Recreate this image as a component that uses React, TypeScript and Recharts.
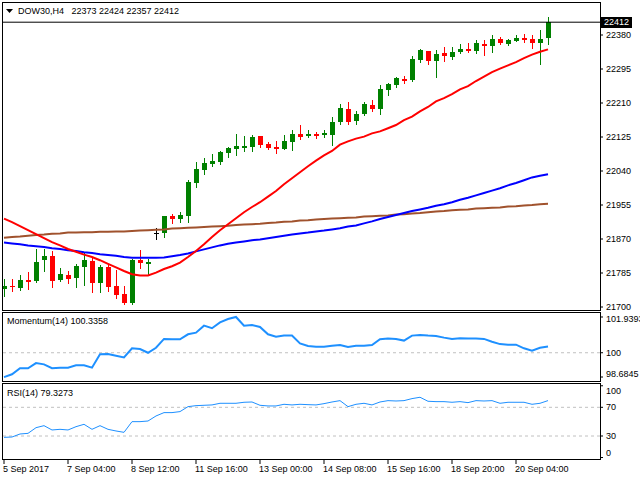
import { Bar, ComposedChart, Line, ReferenceLine, XAxis, YAxis } from 'recharts';

const FONT = '"Liberation Sans", Arial, sans-serif';
const UP = '#008000';
const DOWN = '#ff0000';

// H4 candles
const opens = [
  21744, 21752, 21748, 21767, 21764, 21817, 21827, 21767, 21780, 21773,
  21801, 21815, 21759, 21800, 21752, 21733, 21709, 21817, 21808, 21886,
  21886, 21927, 21921, 21927, 22011, 22042, 22058, 22062, 22086, 22096,
  22098, 22100, 22127, 22108, 22101, 22096, 22113, 22132, 22127, 22132,
  22130, 22131, 22163, 22194, 22165, 22183, 22204, 22194, 22242, 22255,
  22271, 22267, 22318, 22340, 22315, 22336, 22325, 22338, 22346, 22340,
  22358, 22352, 22370, 22358, 22366, 22372, 22370, 22360, 22373,
];
const highs = [
  21771, 21769, 21780, 21787, 21844, 21846, 21840, 21797, 21789, 21808,
  21836, 21823, 21804, 21808, 21792, 21752, 21819, 21843, 21819, 21898,
  21928, 21933, 21937, 22017, 22063, 22073, 22082, 22090, 22100, 22132,
  22128, 22129, 22128, 22112, 22115, 22129, 22142, 22155, 22142, 22137,
  22143, 22175, 22208, 22212, 22190, 22213, 22217, 22254, 22260, 22275,
  22278, 22327, 22346, 22341, 22342, 22350, 22350, 22358, 22360, 22367,
  22368, 22380, 22375, 22370, 22380, 22382, 22380, 22392, 22424,
];
const lows = [
  21727, 21740, 21742, 21746, 21762, 21790, 21751, 21765, 21760, 21751,
  21756, 21738, 21738, 21740, 21723, 21708, 21707, 21798, 21779, 21869,
  21875, 21911, 21913, 21913, 22001, 22033, 22052, 22057, 22076, 22080,
  22090, 22090, 22100, 22094, 22086, 22094, 22093, 22121, 22125, 22123,
  22125, 22106, 22157, 22157, 22158, 22180, 22190, 22183, 22230, 22250,
  22261, 22265, 22313, 22308, 22276, 22315, 22321, 22334, 22337, 22336,
  22330, 22338, 22357, 22356, 22365, 22363, 22348, 22308, 22357,
];
const closes = [
  21752, 21749, 21767, 21763, 21812, 21827, 21765, 21782, 21771, 21802,
  21817, 21761, 21801, 21750, 21729, 21711, 21817, 21811, 21812, 21886,
  21927, 21921, 21930, 22013, 22044, 22060, 22065, 22087, 22097, 22102,
  22103, 22125, 22105, 22098, 22096, 22115, 22132, 22125, 22132, 22128,
  22135, 22162, 22197, 22163, 22183, 22207, 22194, 22244, 22258, 22272,
  22265, 22321, 22342, 22315, 22333, 22328, 22338, 22345, 22341, 22360,
  22353, 22370, 22360, 22367, 22373, 22368, 22360, 22370, 22412,
];

// moving averages
const ma20 = [
  21921, 21912, 21902, 21892, 21882, 21872, 21862, 21854, 21845, 21838,
  21831, 21825, 21817, 21808, 21799, 21790, 21782, 21779, 21779, 21786,
  21795, 21802, 21811, 21825, 21840, 21857, 21875, 21892, 21907, 21922,
  21937, 21950, 21962, 21976, 21990, 22007, 22022, 22037, 22052, 22066,
  22079, 22090, 22106, 22114, 22121, 22126, 22134, 22139, 22147, 22155,
  22167, 22176, 22189, 22200, 22214, 22222, 22232, 22244, 22252, 22265,
  22276, 22287, 22296, 22304, 22312, 22322, 22331, 22338, 22344,
];
const ma100 = [
  21861, 21859, 21857, 21854, 21852, 21850, 21847, 21845, 21842, 21840,
  21837, 21835, 21832, 21830, 21828, 21825, 21823, 21823, 21823, 21823,
  21824, 21827, 21830, 21834, 21839, 21844, 21849, 21854, 21858, 21861,
  21864, 21867, 21869, 21872, 21875, 21878, 21881, 21884, 21886, 21889,
  21891, 21894, 21897, 21901, 21904, 21909, 21914, 21920, 21925, 21930,
  21935, 21940, 21944, 21948, 21953, 21957, 21962, 21968, 21973, 21979,
  21985, 21991, 21997, 22004, 22010, 22017, 22024, 22028, 22032,
];
const ma200 = [
  21873, 21875, 21876, 21878, 21880, 21881, 21883, 21884, 21886, 21886,
  21887, 21887, 21888, 21888, 21889, 21889, 21890, 21891, 21892, 21893,
  21894, 21896, 21897, 21898, 21899, 21900, 21901, 21902, 21903, 21905,
  21906, 21907, 21908, 21910, 21911, 21913, 21914, 21916, 21917, 21919,
  21920, 21921, 21922, 21923, 21924, 21926, 21927, 21928, 21929, 21931,
  21932, 21934, 21935, 21937, 21939, 21940, 21942, 21943, 21944, 21946,
  21947, 21948, 21949, 21951, 21952, 21954, 21955, 21957, 21958,
];

const momentum = [
  98.68, 98.83, 99.16, 99.16, 99.44, 99.37, 99.16, 99.19, 99.19, 99.32,
  99.32, 99.19, 99.92, 99.93, 99.84, 99.75, 100.24, 100.2, 100.0, 100.27,
  100.75, 100.73, 100.73, 101.0, 101.09, 101.47, 101.33, 101.65, 101.83, 101.94,
  101.47, 101.51, 101.4, 101.0, 100.87, 100.93, 100.93, 100.51, 100.37, 100.33,
  100.33, 100.38, 100.42, 100.31, 100.38, 100.38, 100.42, 100.73, 100.77, 100.75,
  100.66, 100.93, 100.96, 100.93, 100.91, 100.82, 100.75, 100.78, 100.77, 100.77,
  100.75, 100.6, 100.47, 100.44, 100.44, 100.24, 100.11, 100.27, 100.34,
];
const rsi = [
  28.1, 28.6, 32.8, 33.7, 41.6, 44.4, 38.4, 39.3, 38.4, 43.0,
  46.3, 39.3, 44.4, 39.3, 37.0, 35.1, 50.0, 50.0, 50.9, 57.9,
  62.6, 62.6, 64.0, 70.9, 72.3, 72.8, 73.3, 75.6, 75.6, 75.6,
  77.0, 77.4, 72.8, 71.9, 71.9, 74.2, 73.3, 74.2, 73.7, 73.3,
  75.1, 77.4, 79.3, 70.9, 74.2, 75.6, 73.3, 77.4, 79.3, 78.8,
  79.3, 82.1, 84.0, 78.4, 77.9, 77.9, 77.0, 77.9, 76.5, 79.3,
  78.8, 79.3, 75.6, 77.0, 77.0, 77.0, 74.2, 75.6, 79.33,
];

const timeTicks = [0, 8, 16, 24, 32, 40, 48, 56, 64];
const timeLabels = [
  '5 Sep 2017', '7 Sep 04:00', '8 Sep 12:00', '11 Sep 16:00', '13 Sep 00:00',
  '14 Sep 08:00', '15 Sep 16:00', '18 Sep 20:00', '20 Sep 04:00',
];
const priceTicks = [22380, 22295, 22210, 22125, 22040, 21955, 21870, 21785, 21700];
const momentumTicks = [101.9393, 100, 98.6845];
const rsiTicks = [100, 70, 30, 0];
const lastPrice = 22412;

const rows = opens.map((open, i) => ({
  i,
  open,
  high: highs[i],
  low: lows[i],
  close: closes[i],
  range: [lows[i], highs[i]],
  ma20: ma20[i],
  ma100: ma100[i],
  ma200: ma200[i],
  mom: momentum[i],
  rsi: rsi[i],
}));

const X_DOMAIN: [number, number] = [-0.25, 74.5];

function Candle(props: any) {
  const { x, y, width, height, index } = props;
  const d = props.payload && props.payload.open !== undefined ? props.payload : rows[index];
  if (!d) return null;
  const { open, close, high, low } = d;
  const top = Math.min(y, y + height);
  const h = Math.abs(height);
  const k = high > low ? h / (high - low) : 0;
  const py = (v: number) => top + (high - v) * k;
  const cx = Math.round(x + width / 2);
  const color = close > open ? UP : close < open ? DOWN : '#000';
  const wTop = Math.round(top);
  const wBot = Math.round(top + h);
  const bTop = Math.round(py(Math.max(open, close)));
  const bBot = Math.round(py(Math.min(open, close)));
  return (
    <g>
      <rect x={cx} y={wTop} width={1} height={Math.max(1, wBot - wTop + 1)} fill={color} />
      <rect x={cx - 2} y={bTop} width={5} height={Math.max(1, bBot - bTop)} fill={color} />
    </g>
  );
}

function PriceTag(props: any) {
  const vb = props.viewBox || {};
  const x = (vb.x ?? 2) + (vb.width ?? 598) + 1;
  const y = Math.round(vb.y ?? 22);
  return (
    <g>
      <rect x={x} y={y - 5} width={31} height={11} fill="#000" />
      <text x={x + 15.5} y={y} dy="0.355em" fill="#fff" fontSize={9} fontFamily={FONT} textAnchor="middle">
        {lastPrice}
      </text>
    </g>
  );
}

function makeSideTick(shift: Record<string, number>) {
  return (props: any) => {
    const { x, y, payload } = props;
    return (
      <text x={x} y={y + (shift[String(payload.value)] ?? 0)} dy="0.355em" fontSize={9} fontFamily={FONT} fill="#000" textAnchor="start">
        {payload.value}
      </text>
    );
  };
}

function TimeTick(props: any) {
  const { x, y, payload } = props;
  const idx = timeTicks.indexOf(payload.value);
  return (
    <text x={x - 1} y={y + 6} fontSize={9} fontFamily={FONT} fill="#000" textAnchor="start">
      {timeLabels[idx]}
    </text>
  );
}

const sideAxis = {
  orientation: 'right' as const,
  width: 40,
  interval: 0 as const,
  axisLine: false,
  tickLine: { stroke: '#000' },
  tickSize: 3,
  tickMargin: 3,
  allowDataOverflow: true,
};

export default function App() {
  return (
    <div style={{ position: 'absolute', left: 0, top: 0, width: 640, height: 480, background: '#fff', overflow: 'hidden' }}>
      <div style={{ position: 'absolute', left: 0, top: 0 }}>
        <ComposedChart width={640} height={311} data={rows} margin={{ top: 2, right: 0, bottom: 1, left: 2 }}>
          <XAxis type="number" dataKey="i" domain={X_DOMAIN} allowDataOverflow hide />
          <YAxis {...sideAxis} domain={[21692.5, 22462.5]} ticks={priceTicks} tick={makeSideTick({})} />
          <ReferenceLine y={lastPrice} stroke="#000" strokeWidth={1} label={<PriceTag />} />
          <Line type="linear" dataKey="ma200" stroke="#a0522d" strokeWidth={2} dot={false} isAnimationActive={false} />
          <Line type="linear" dataKey="ma100" stroke="#0000ff" strokeWidth={2} dot={false} isAnimationActive={false} />
          <Line type="linear" dataKey="ma20" stroke="#ff0000" strokeWidth={2} dot={false} isAnimationActive={false} />
          <Bar dataKey="range" shape={(p: any) => <Candle {...p} />} isAnimationActive={false} />
        </ComposedChart>
      </div>

      <div style={{ position: 'absolute', left: 0, top: 312 }}>
        <ComposedChart width={640} height={70} data={rows} margin={{ top: 0, right: 0, bottom: 0, left: 2 }}>
          <XAxis type="number" dataKey="i" domain={X_DOMAIN} allowDataOverflow hide />
          <YAxis
            {...sideAxis}
            domain={[98.4133, 102.2105]}
            ticks={momentumTicks}
            tick={makeSideTick({ '101.9393': 2, '98.6845': -3 })}
          />
          <ReferenceLine y={100} stroke="#c0c0c0" strokeDasharray="3 3" />
          <Line type="linear" dataKey="mom" stroke="#1e90ff" strokeWidth={2} dot={false} isAnimationActive={false} />
        </ComposedChart>
      </div>

      <div style={{ position: 'absolute', left: 0, top: 383 }}>
        <ComposedChart width={640} height={97} data={rows} margin={{ top: 0, right: 0, bottom: 0, left: 2 }}>
          <XAxis
            type="number"
            dataKey="i"
            domain={X_DOMAIN}
            allowDataOverflow
            ticks={timeTicks}
            interval={0}
            height={20}
            axisLine={false}
            tickLine={{ stroke: '#000' }}
            tickSize={4}
            tickMargin={2}
            tick={<TimeTick />}
          />
          <YAxis {...sideAxis} domain={[-3.45, 103.87]} ticks={rsiTicks} tick={makeSideTick({ '100': 5, '0': -5 })} />
          <ReferenceLine y={70} stroke="#c0c0c0" strokeDasharray="3 3" />
          <ReferenceLine y={30} stroke="#c0c0c0" strokeDasharray="3 3" />
          <Line type="linear" dataKey="rsi" stroke="#1e90ff" strokeWidth={1} dot={false} isAnimationActive={false} />
        </ComposedChart>
      </div>

      <svg width={640} height={480} style={{ position: 'absolute', left: 0, top: 0, pointerEvents: 'none' }}>
        <g fill="none" stroke="#000" strokeWidth={1}>
          <rect x={2.5} y={2.5} width={598} height={308} />
          <rect x={2.5} y={312.5} width={598} height={69} />
          <rect x={2.5} y={383.5} width={598} height={76} />
        </g>
        <polygon points="6,9 13,9 9.5,13" fill="#000" />
        <g fontFamily={FONT} fontSize={9} fill="#000">
          <text x={18} y={10.5} dy="0.355em">{'DOW30,H4\u00a0\u00a0 22373 22424 22357 22412'}</text>
          <text x={7} y={320.5} dy="0.355em">Momentum(14) 100.3358</text>
          <text x={7} y={393} dy="0.355em">RSI(14) 79.3273</text>
        </g>
      </svg>
    </div>
  );
}
